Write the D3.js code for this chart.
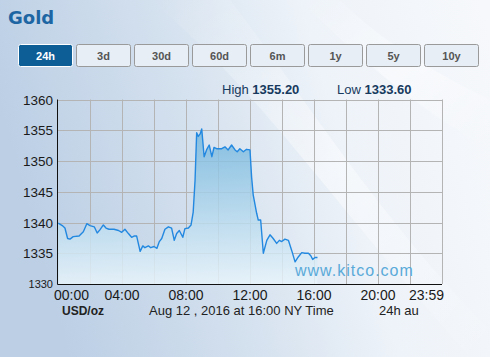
<!DOCTYPE html>
<html>
<head>
<meta charset="utf-8">
<script src="https://cdn.jsdelivr.net/npm/d3@7"></script>
<style>
  body { margin: 0; }
  svg { display: block; }
</style>
</head>
<body>
<div id="chart"></div>
<script>
const ranges = ['24h', '3d', '30d', '60d', '6m', '1y', '5y', '10y']
const yTicks = [1330, 1335, 1340, 1345, 1350, 1355, 1360]
const xTickLabels = ['00:00', '04:00', '08:00', '12:00', '16:00', '20:00', '23:59']
const high = '1355.20'
const low = '1333.60'

const times = [
  '00:01', '00:16', '00:26', '00:36', '00:45', '00:57', '01:19', '01:35', '01:48', '02:00',
  '02:16', '02:27', '02:37', '02:50', '03:00', '03:11', '03:30', '03:47', '03:59', '04:11',
  '04:24', '04:36', '04:45', '04:55', '05:08', '05:18', '05:26', '05:39', '05:48', '06:00',
  '06:11', '06:20', '06:29', '06:41', '06:54', '07:06', '07:16', '07:25', '07:35', '07:48',
  '07:56', '08:09', '08:19', '08:27', '08:34', '08:40', '08:46', '08:53', '08:59', '09:08',
  '09:18', '09:27', '09:37', '09:45', '09:55', '10:14', '10:26', '10:38', '10:51', '11:04',
  '11:12', '11:22', '11:35', '11:47', '12:00', '12:06', '12:12', '12:25', '12:31', '12:40',
  '12:50', '13:03', '13:15', '13:27', '13:40', '13:50', '13:59', '14:11', '14:24', '14:36',
  '14:49', '15:01', '15:14', '15:26', '15:39', '15:48', '15:55', '16:04', '16:13'
]
const prices = [
  1339.9, 1339.5, 1339.1, 1337.4, 1337.3, 1337.7, 1337.8, 1338.5, 1339.8, 1339.5,
  1339.3, 1338.3, 1338.8, 1339.6, 1339.1, 1338.9, 1338.9, 1338.7, 1338.4, 1338.9,
  1338.2, 1337.6, 1337.8, 1337.8, 1335.3, 1336.2, 1335.9, 1336.2, 1335.9, 1336.1,
  1335.8, 1336.9, 1337.4, 1338.9, 1339.3, 1339.1, 1337.1, 1338.2, 1338.7, 1337.6,
  1339.0, 1339.1, 1339.6, 1341.7, 1346.9, 1354.6, 1354.0, 1354.4, 1355.2, 1350.7,
  1351.9, 1352.6, 1350.7, 1352.2, 1352.0, 1352.0, 1352.3, 1351.8, 1352.6, 1351.8,
  1351.5, 1352.0, 1351.5, 1351.9, 1351.8, 1347.4, 1344.5, 1341.5, 1340.4, 1340.4,
  1335.0, 1337.1, 1338.0, 1337.4, 1336.6, 1337.1, 1336.9, 1337.3, 1337.1, 1335.5,
  1333.6, 1334.4, 1335.1, 1335.0, 1335.0, 1334.6, 1334.0, 1334.3, 1334.3
]

const toMin = s => { const p = s.split(':'); return +p[0] * 60 + +p[1] }
const data = times.map((t, i) => ({ t: toMin(t), v: prices[i] }))

const W = 490, H = 357
const svg = d3.select('#chart').append('svg')
    .attr('width', W)
    .attr('height', H)
    .style('font-family', '"Liberation Sans", Arial, sans-serif')

const defs = svg.append('defs')

// page background
const bg = defs.append('linearGradient').attr('id', 'bg')
    .attr('x1', 0).attr('y1', 0.3).attr('x2', 1).attr('y2', 0.1)
bg.append('stop').attr('offset', 0).attr('stop-color', '#bccfe5')
bg.append('stop').attr('offset', 0.35).attr('stop-color', '#d3e0ee')
bg.append('stop').attr('offset', 0.65).attr('stop-color', '#eef3f9')
bg.append('stop').attr('offset', 1).attr('stop-color', '#f6f8fb')

const swoosh = defs.append('linearGradient').attr('id', 'swoosh')
    .attr('x1', 0).attr('y1', 0).attr('x2', 1).attr('y2', 1)
swoosh.append('stop').attr('offset', 0).attr('stop-color', '#ffffff').attr('stop-opacity', 0)
swoosh.append('stop').attr('offset', 0.5).attr('stop-color', '#ffffff').attr('stop-opacity', 0.45)
swoosh.append('stop').attr('offset', 1).attr('stop-color', '#ffffff').attr('stop-opacity', 0)

const areaGrad = defs.append('linearGradient').attr('id', 'areaGrad')
    .attr('gradientUnits', 'userSpaceOnUse')
    .attr('x1', 0).attr('y1', 130).attr('x2', 0).attr('y2', 284)
areaGrad.append('stop').attr('offset', 0).attr('stop-color', '#72b5dc')
areaGrad.append('stop').attr('offset', 1).attr('stop-color', '#eaf5fb')

svg.append('rect').attr('width', W).attr('height', H).attr('fill', 'url(#bg)')
svg.append('path')
    .attr('d', 'M150,0 C260,90 330,200 470,357 L490,357 L490,330 C380,220 300,90 230,0 Z')
    .attr('fill', 'url(#swoosh)')
svg.append('path')
    .attr('d', 'M300,0 C360,60 420,110 490,150 L490,100 C430,70 380,40 340,0 Z')
    .attr('fill', 'url(#swoosh)')

// title
svg.append('text')
    .attr('x', 8).attr('y', 24)
    .style('font-family', '"DejaVu Sans", Verdana, sans-serif')
    .style('font-size', '18px')
    .style('font-weight', 'bold')
    .attr('fill', '#1d66a3')
    .text('Gold')

// range buttons
const btn = svg.append('g').selectAll('g').data(ranges).join('g')
    .attr('transform', (d, i) => `translate(${18.5 + i * 58},44.5)`)
btn.append('rect')
    .attr('width', 54).attr('height', 22).attr('rx', 2)
    .attr('fill', (d, i) => i === 0 ? '#0d5d97' : '#e8eef5')
    .attr('stroke', (d, i) => i === 0 ? '#ffffff' : '#9a9a9a')
btn.append('text')
    .attr('x', 27).attr('y', 15.5)
    .attr('text-anchor', 'middle')
    .style('font-size', '11px')
    .style('font-weight', 'bold')
    .attr('fill', (d, i) => i === 0 ? '#ffffff' : '#555555')
    .text(d => d)

// high / low
const hl = svg.append('text').attr('y', 94)
    .style('font-size', '13px').attr('fill', '#173a5e')
hl.append('tspan').attr('x', 222).text('High ')
hl.append('tspan').style('font-weight', 'bold').text(high)
hl.append('tspan').attr('x', 337).text('Low ')
hl.append('tspan').style('font-weight', 'bold').text(low)

// scales
const x = d3.scaleLinear().domain([0, 1440]).range([58, 442])
const y = d3.scaleLinear().domain([1330, 1360]).range([284, 99.5])

// grid
const grid = svg.append('g').attr('stroke', '#b4b4b4').attr('stroke-width', 1)
grid.selectAll('.v').data(d3.range(120, 1441, 120)).join('line')
    .attr('x1', d => Math.round(x(d)) + 0.5).attr('x2', d => Math.round(x(d)) + 0.5)
    .attr('y1', y(1360)).attr('y2', y(1330))
grid.selectAll('.h').data(yTicks.slice(1)).join('line')
    .attr('x1', x(0)).attr('x2', x(1440))
    .attr('y1', d => Math.round(y(d)) + 0.5).attr('y2', d => Math.round(y(d)) + 0.5)

// area + line
const area = d3.area().x(d => x(d.t)).y0(y(1330)).y1(d => y(d.v))
const line = d3.line().x(d => x(d.t)).y(d => y(d.v))
svg.append('path').datum(data).attr('d', area)
    .attr('fill', 'url(#areaGrad)').attr('fill-opacity', 0.82)
svg.append('path').datum(data).attr('d', line)
    .attr('fill', 'none').attr('stroke', '#2288e0').attr('stroke-width', 1.4)
    .attr('stroke-linejoin', 'round')

// watermark
svg.append('text')
    .attr('x', 295).attr('y', 276)
    .style('font-size', '16px')
    .style('letter-spacing', '1px')
    .attr('fill', '#5aaad9')
    .text('www.kitco.com')

// axes
svg.append('line').attr('x1', 57.5).attr('x2', 57.5).attr('y1', y(1360)).attr('y2', 284.5)
    .attr('stroke', '#111')
svg.append('line').attr('x1', 57.5).attr('x2', 442).attr('y1', 284.5).attr('y2', 284.5)
    .attr('stroke', '#111')

// y labels
svg.append('g').selectAll('text').data(yTicks).join('text')
    .attr('x', 53)
    .attr('y', d => d === 1330 ? 288 : y(d) + 5)
    .attr('text-anchor', 'end')
    .style('font-size', d => d === 1330 ? '11px' : '13.5px')
    .attr('fill', '#1a1a1a')
    .text(d => d)

// x labels
svg.append('g').selectAll('text').data(xTickLabels).join('text')
    .attr('x', (d, i) => i === 0 ? 54 : i === xTickLabels.length - 1 ? 444 : x(toMin(d)))
    .attr('y', 300)
    .attr('text-anchor', (d, i) => i === 0 ? 'start' : i === xTickLabels.length - 1 ? 'end' : 'middle')
    .style('font-size', '14px')
    .attr('fill', '#1a1a1a')
    .text(d => d)

// footer
svg.append('text').attr('x', 62).attr('y', 315)
    .style('font-size', '12px').style('font-weight', 'bold').attr('fill', '#222')
    .text('USD/oz')
svg.append('text').attr('x', 149).attr('y', 315)
    .style('font-size', '13px').attr('fill', '#222')
    .text('Aug 12 , 2016 at 16:00 NY Time')
svg.append('text').attr('x', 379).attr('y', 315)
    .style('font-size', '13px').attr('fill', '#222')
    .text('24h au')
</script>
</body>
</html>
